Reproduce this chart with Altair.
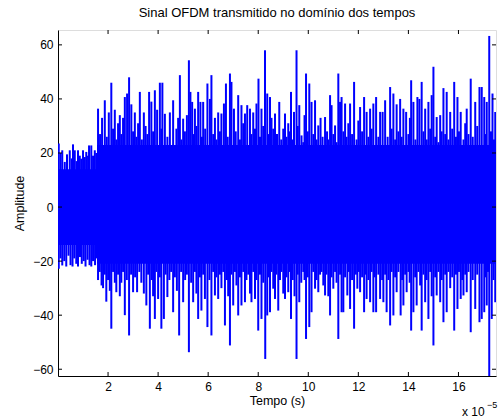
import altair as alt
import pandas as pd

# ---- data (time in units of 1e-5 s, amplitude) ----
up_t = [0.03,0.1,0.17,0.27,0.36,0.47,0.55,0.6,0.67,0.74,0.8,0.87,0.93,1.0,1.07,1.13,1.2,1.24,1.33,1.4,1.47,1.53,
        1.6,1.68,1.76,1.87,1.95,2.03,2.13,2.2,2.27,2.33,2.4,2.47,2.53,2.6,2.67,2.76,2.84,2.93,3.0,3.07,3.13,3.2,3.27,3.35,3.43,3.5,3.57,3.64,3.73,3.8,3.87,3.96,4.07,4.13,
        4.17,4.27,4.37,4.47,4.6,4.73,4.8,4.87,4.93,5.0,5.07,5.15,5.23,5.29,5.36,5.42,5.47,5.53,5.6,5.69,5.75,5.8,5.88,5.97,6.07,6.13,6.2,6.27,6.33,6.4,6.47,6.53,6.63,6.71,6.78,6.87,6.93,7.03,7.1,7.2,7.27,7.33,7.4,7.47,7.56,7.67,7.73,7.8,7.87,7.93,8.01,8.07,8.13,8.2,8.27,8.36,8.42,8.47,8.53,8.6,
        8.67,8.75,8.84,8.92,9.0,9.07,9.13,9.2,9.25,9.31,9.37,9.43,9.53,9.58,9.64,9.73,9.8,9.85,9.91,9.98,10.04,10.13,10.2,10.27,10.33,10.4,10.49,10.57,10.67,10.75,10.8,10.87,10.93,11.0,11.07,11.13,11.2,11.27,11.33,11.4,11.47,11.53,11.6,11.67,11.75,11.83,11.93,12.0,12.07,12.15,12.23,12.33,12.4,12.47,12.53,12.6,12.71,12.8,12.87,
        12.97,13.07,13.17,13.27,13.33,13.4,13.47,13.53,13.6,13.67,13.73,13.8,13.91,14.0,14.06,14.11,14.2,14.28,14.36,14.44,14.53,14.6,14.67,14.73,14.8,14.87,14.93,15.0,15.07,15.13,15.2,15.27,15.33,15.4,15.47,15.53,15.6,15.67,15.75,15.83,15.9,15.96,16.02,16.09,16.2,16.27,16.33,16.4,16.49,16.57,16.67,16.75,16.84,16.93,17.03,17.08,17.13,17.23,17.3,17.36,17.42,17.47]
up_v = [23.5,20,21,16.7,19.5,21,18,23.2,21,17,21,19,17.9,21,18.5,20.4,19,22.8,22.8,19,21,20,
        36.4,27,33,39.5,26,35,46,29,36,25,31,34,27,33,40.7,42,48,38,28,35,26,31,42.6,25,35,30,27,42.6,39,28,43.2,36,46,29,
        46,34.5,26,35,39.5,29,33,48.8,25,32.7,28,34,54.3,42.6,38.9,27,36.4,30,42.6,38.9,26,38.9,29,45.7,40,48.8,27,33,25,35,28,34.6,38.3,45.7,26,49.4,46.3,36.4,28,41.4,25,37.7,31,34.6,37.7,36.4,27,35,29,38.3,47.5,26,36.4,30,58,42,27,40.7,33,29,
        34.6,27,38.9,25,29,34.6,26,31,28,42.6,25,35.2,58,30,37.7,26.5,24,34,49.4,28,45.7,38.9,27,39.5,25,30.2,33,26,33.3,28,25,41.4,37.7,27,30.2,24,49.4,38.9,40.7,28,38.3,26,31,38.3,27,46.3,25,32,37,28,40.7,35.2,26,36.4,29,38.3,40.7,26,35.2,
        35.2,39.5,26,44.4,29,42,25,38,28,40,26,36.4,35.2,27,33,46.9,38.9,25,40.7,40,46.3,28,36.4,25,38.9,29,41.4,51.9,26,33.3,24,34,28,44,27,42.6,25,35.2,29,46.3,26,40.7,28,35.2,25,31,36.4,27,47.5,26,38.9,30,44.4,44.4,40.7,27,38.9,63.3,28,42,25,35.2]

lo_t = [0.03,0.1,0.17,0.25,0.33,0.42,0.5,0.58,0.65,0.73,0.8,0.88,0.95,1.03,1.1,1.18,1.26,1.33,1.4,1.48,1.53,
        1.6,1.67,1.74,1.8,1.87,1.93,2.0,2.07,2.13,2.2,2.27,2.33,2.4,2.47,2.53,2.6,2.67,2.75,2.84,2.92,3.0,3.08,3.16,3.25,3.33,3.43,3.53,3.6,3.67,3.75,3.8,3.87,3.93,4.0,4.07,4.13,
        4.23,4.3,4.37,4.45,4.52,4.6,4.67,4.75,4.84,4.92,5.0,5.08,5.15,5.23,5.32,5.4,5.47,5.53,5.6,5.67,5.73,5.8,5.87,5.97,6.05,6.13,6.2,6.27,6.33,6.4,6.47,6.53,6.6,6.67,6.75,6.8,6.87,6.93,7.0,7.07,7.13,7.2,7.27,7.33,7.4,7.47,7.53,7.6,7.67,7.73,7.8,7.87,7.93,8.0,8.07,8.13,8.2,8.28,8.36,8.42,8.47,8.53,8.6,
        8.67,8.73,8.8,8.87,8.93,9.0,9.07,9.13,9.2,9.25,9.31,9.38,9.45,9.53,9.58,9.64,9.72,9.8,9.85,9.91,9.98,10.04,10.13,10.2,10.27,10.33,10.4,10.47,10.53,10.6,10.67,10.73,10.8,10.87,10.93,11.0,11.07,11.13,11.2,11.27,11.33,11.4,11.47,11.56,11.62,11.67,11.75,11.83,11.9,11.96,12.02,12.07,12.15,12.23,12.28,12.33,12.4,12.47,12.53,12.6,12.65,12.71,12.8,12.87,12.95,
        13.0,13.07,13.13,13.2,13.27,13.33,13.4,13.47,13.53,13.6,13.69,13.75,13.8,13.87,13.93,14.0,14.05,14.11,14.2,14.27,14.33,14.4,14.47,14.53,14.6,14.67,14.73,14.8,14.87,14.93,15.0,15.07,15.13,15.2,15.27,15.33,15.4,15.47,15.53,15.6,15.67,15.75,15.83,15.9,15.96,16.02,16.09,16.15,16.2,16.27,16.33,16.4,16.49,16.57,16.67,16.75,16.84,16.93,17.03,17.08,17.13,17.18,17.23,17.33,17.4,17.47]
lo_v = [-22.8,-19,-21.6,-20,-22,-18,-21.5,-22,-19,-21,-22,-18.5,-21,-20,-22,-19.5,-21.5,-22,-20,-21.5,-19,
        -27,-24,-29,-30,-25,-35,-27,-31,-45,-24,-28,-31.5,-25,-33,-28,-24,-40,-27,-47.5,-25,-31.5,-26,-31.5,-24,-28,-32,-36.4,-25,-45,-27,-33,-41.4,-24,-34,-26,-45,
        -41.4,-25,-33.3,-27,-24,-38.9,-26,-31,-47.5,-24,-35.2,-27,-25,-53.7,-28,-35.2,-24,-32,-41.4,-26,-38.3,-25,-34,-44.4,-27,-47.5,-24,-32.7,-26,-34,-25,-30,-24,-43.8,-27,-33,-51.2,-25,-36.4,-24,-29,-40.1,-26,-36.4,-24,-35.2,-27,-25,-32,-35.2,-24,-34,-27,-45.7,-25,-41.4,-28,-56.2,-40.1,-26,-38.9,-24,-30.2,
        -34,-25,-38.3,-27,-24,-32,-34,-26,-31.5,-24,-41.4,-27,-33,-56.2,-25,-35.2,-28,-24,-27,-48.8,-26,-44.4,-38.9,-24,-30.2,-27,-31.5,-25,-24,-29,-32.7,-25,-33,-40.1,-26,-30.2,-24,-28,-48.8,-25,-38.9,-38.9,-26,-32.7,-24,-37.7,-27,-45,-25,-30.2,-24,-31.5,-26,-38.9,-25,-34,-27,-35.2,-24,-38.9,-26,-38.9,-25,-34,-27,
        -35.2,-25,-38.9,-27,-43.8,-24,-40.1,-26,-31.5,-24,-40.1,-27,-36.4,-25,-31.5,-24,-28,-45.7,-38.9,-26,-36.4,-24,-29,-45.7,-25,-35.2,-27,-41.4,-24,-33,-51.2,-26,-32.7,-24,-35.2,-27,-42.6,-25,-38.9,-24,-30,-26,-45.7,-25,-37.7,-24,-34,-27,-32.7,-25,-31.5,-24,-46.3,-27,-37.7,-25,-42.6,-41.4,-38.9,-26,-36.4,-24,-62.5,-41.4,-27,-35.2]

core_t = [0.0, 1.56, 1.56, 17.5]
core_hi = [14, 14, 23, 23]
core_lo = [-14, -14, -21, -21]

x_ticks = [2, 4, 6, 8, 10, 12, 14, 16]
y_ticks = [-60, -40, -20, 0, 20, 40, 60]

W, H = 438, 346
XDOM = [0, 17.5]
YDOM = [-62.5, 65.5]
BLUE = "#0000FF"
FONT = "Liberation Sans"

spikes = pd.DataFrame({"t": up_t + lo_t, "v": up_v + lo_v})
spikes["z"] = 0.0
core = pd.DataFrame({"t": core_t, "hi": core_hi, "lo": core_lo})

xs = alt.Scale(domain=XDOM, nice=False, zero=False)
ys = alt.Scale(domain=YDOM, nice=False, zero=False)

x_axis = alt.Axis(values=x_ticks, title="Tempo (s)", grid=False, ticks=False,
                  labelFontSize=12, titleFontSize=12.5, titleFontWeight="normal",
                  labelPadding=5, titlePadding=2, labelFont=FONT, titleFont=FONT,
                  domainColor="black", labelColor="black", titleColor="black")
y_axis = alt.Axis(values=y_ticks, title="Amplitude", grid=False, ticks=False,
                  labelFontSize=12, titleFontSize=12.5, titleFontWeight="normal",
                  labelPadding=5, titlePadding=6, labelFont=FONT, titleFont=FONT,
                  domainColor="black", labelColor="black", titleColor="black")

core_layer = alt.Chart(core).mark_area(color=BLUE, opacity=1, clip=True).encode(
    x=alt.X("t:Q", scale=xs, axis=x_axis),
    y=alt.Y("hi:Q", scale=ys, axis=y_axis),
    y2="lo:Q",
)

spike_layer = alt.Chart(spikes).mark_rule(color=BLUE, strokeWidth=2, clip=True).encode(
    x=alt.X("t:Q", scale=xs),
    y=alt.Y("v:Q", scale=ys),
    y2="z:Q",
)

xt = pd.DataFrame({"t": x_ticks})
yt = pd.DataFrame({"v": y_ticks})
tick_style = dict(color="black", strokeWidth=1)
top_ticks = alt.Chart(xt).mark_rule(**tick_style).encode(
    x=alt.X("t:Q", scale=xs), y=alt.value(0), y2=alt.value(4))
bot_ticks = alt.Chart(xt).mark_rule(**tick_style).encode(
    x=alt.X("t:Q", scale=xs), y=alt.value(H), y2=alt.value(H - 4))
left_ticks = alt.Chart(yt).mark_rule(**tick_style).encode(
    y=alt.Y("v:Q", scale=ys), x=alt.value(0), x2=alt.value(4))
right_ticks = alt.Chart(yt).mark_rule(**tick_style).encode(
    y=alt.Y("v:Q", scale=ys), x=alt.value(W), x2=alt.value(W - 4))

exp_base = alt.Chart(pd.DataFrame({"s": ["x 10"]})).mark_text(
    font=FONT, fontSize=12, align="left", baseline="middle", color="black").encode(
    text="s:N", x=alt.value(404), y=alt.value(382))
exp_sup = alt.Chart(pd.DataFrame({"s": ["\u22125"]})).mark_text(
    font=FONT, fontSize=9, align="left", baseline="middle", color="black").encode(
    text="s:N", x=alt.value(429), y=alt.value(375))

chart = alt.layer(
    core_layer, spike_layer, top_ticks, bot_ticks, left_ticks, right_ticks, exp_base, exp_sup
).properties(
    width=W, height=H,
    title=alt.TitleParams("Sinal OFDM transmitido no domínio dos tempos", font=FONT,
                          fontSize=13, fontWeight="normal", color="black", offset=10),
    autosize=alt.AutoSizeParams(type="none"),
    padding={"left": 58, "top": 30, "right": 2, "bottom": 42},
).configure_view(stroke="black", strokeWidth=1).configure(background="white")

chart.save("out.html", embed_options={"renderer": "svg", "actions": False})
